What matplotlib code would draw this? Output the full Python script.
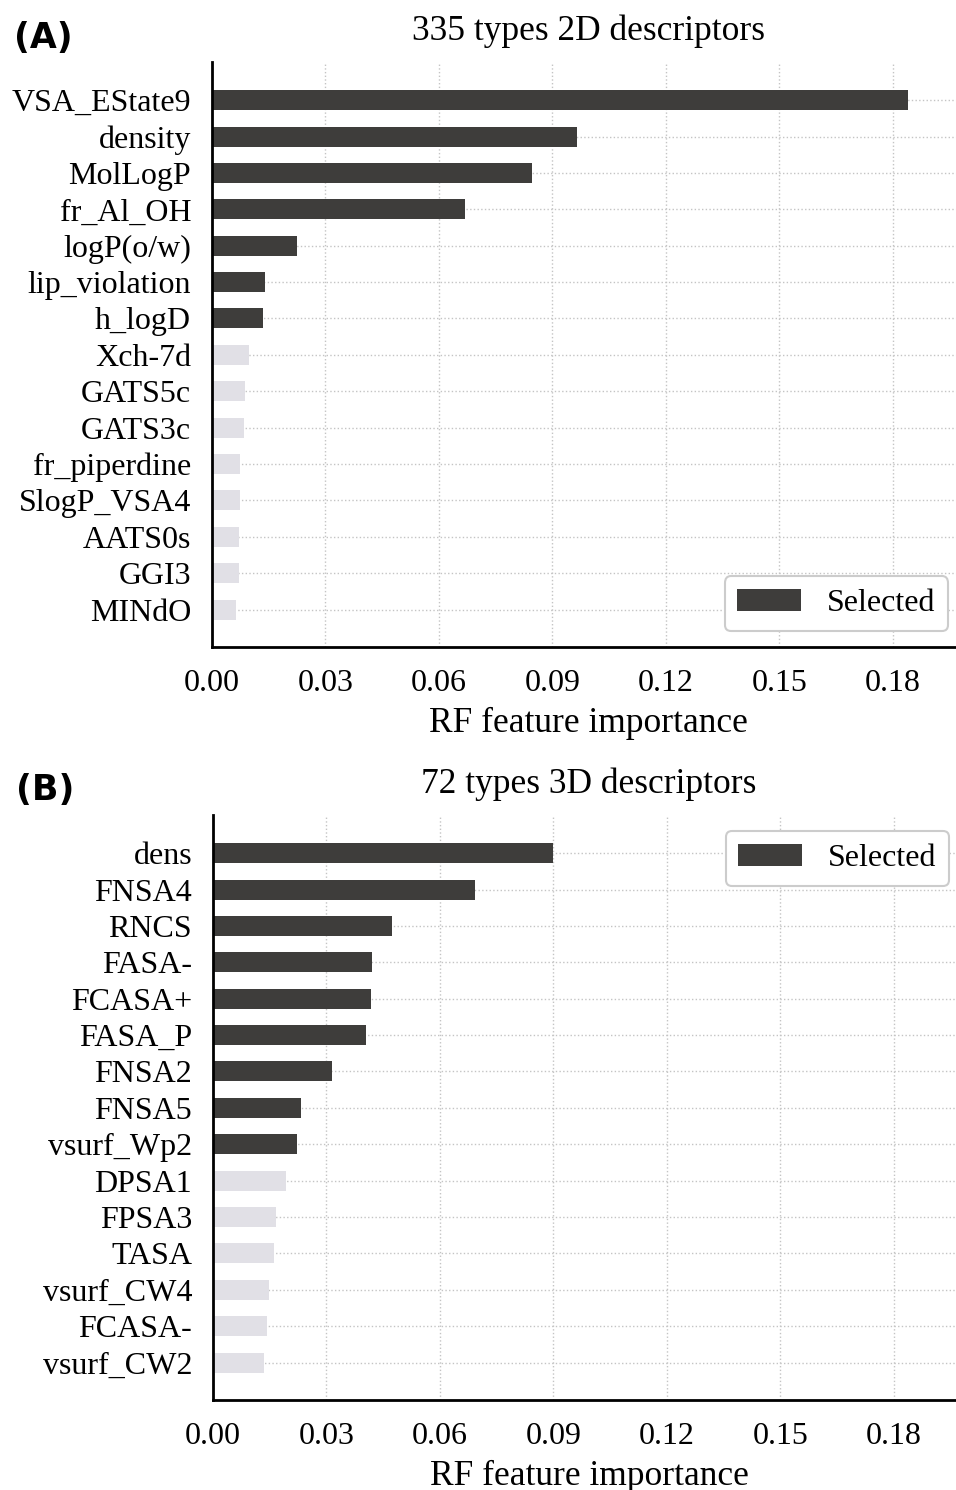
import matplotlib.pyplot as plt
import numpy as np

plt.rcParams['font.family'] = ['Liberation Serif', 'DejaVu Serif']

# -------- Data --------
names_2d = ['VSA_EState9', 'density', 'MolLogP', 'fr_Al_OH', 'logP(o/w)',
            'lip_violation', 'h_logD', 'Xch-7d', 'GATS5c', 'GATS3c',
            'fr_piperdine', 'SlogP_VSA4', 'AATS0s', 'GGI3', 'MINdO']
imp_2d = [0.1840, 0.0965, 0.0846, 0.0670, 0.0226,
          0.0141, 0.0135, 0.0099, 0.0087, 0.0085,
          0.0075, 0.0073, 0.0072, 0.0071, 0.0063]
n_sel_2d = 7

names_3d = ['dens', 'FNSA4', 'RNCS', 'FASA-', 'FCASA+', 'FASA_P', 'FNSA2',
            'FNSA5', 'vsurf_Wp2', 'DPSA1', 'FPSA3', 'TASA', 'vsurf_CW4',
            'FCASA-', 'vsurf_CW2']
imp_3d = [0.0900, 0.0693, 0.0473, 0.0420, 0.0417, 0.0405, 0.0314,
          0.0233, 0.0221, 0.0193, 0.0167, 0.0162, 0.0148,
          0.0144, 0.0136]
n_sel_3d = 9

xticks = [0.00, 0.03, 0.06, 0.09, 0.12, 0.15, 0.18]

DARK = '#3e3d3b'
LIGHT = '#e1e0e6'


def draw(ax, names, vals, n_sel, title, legend_loc):
    y = np.arange(len(names))
    vals = np.array(vals)
    sel = y < n_sel
    ax.barh(y[sel], vals[sel], height=0.55, color=DARK, label='Selected', zorder=2)
    ax.barh(y[~sel], vals[~sel], height=0.55, color=LIGHT, zorder=2)
    ax.set_yticks(y)
    ax.set_yticklabels(names, fontsize=23)
    ax.set_ylim(len(names) - 1 + 1.03, -1.05)
    ax.set_xlim(0, 0.1988)
    ax.set_xticks(xticks)
    ax.set_xticklabels([f'{t:.2f}' for t in xticks], fontsize=23)
    ax.tick_params(axis='y', length=0, pad=15)
    ax.tick_params(axis='x', length=0, pad=16)
    ax.set_axisbelow(True)
    ax.grid(True, linestyle=':', color='#c4c4c4', linewidth=1.0)
    for s in ['top', 'right']:
        ax.spines[s].set_visible(False)
    for s in ['left', 'bottom']:
        ax.spines[s].set_linewidth(2)
        ax.spines[s].set_color('black')
    ax.set_xlabel('RF feature importance', fontsize=25.5, labelpad=6)
    ax.set_title(title, fontsize=25.5, pad=16)
    leg = ax.legend(loc=legend_loc, fontsize=23, fancybox=True, framealpha=1)
    leg.get_frame().set_edgecolor('#cccccc')
    leg.get_frame().set_linewidth(1.5)


fig = plt.figure(figsize=(9.56, 14.9), dpi=100)
axA = fig.add_axes([212 / 956, 1 - 647 / 1490, 752 / 956, 585 / 1490])
axB = fig.add_axes([213 / 956, 1 - 1400 / 1490, 752 / 956, 585 / 1490])

draw(axA, names_2d, imp_2d, n_sel_2d, '335 types 2D descriptors', 'lower right')
draw(axB, names_3d, imp_3d, n_sel_3d, '72 types 3D descriptors', 'upper right')

fig.text(14 / 956, 1 - 38 / 1490, '(A)', fontsize=25, fontweight='bold',
         family='DejaVu Sans', va='center', ha='left')
fig.text(16 / 956, 1 - 790 / 1490, '(B)', fontsize=25, fontweight='bold',
         family='DejaVu Sans', va='center', ha='left')

fig.savefig('out.png', dpi=100)
